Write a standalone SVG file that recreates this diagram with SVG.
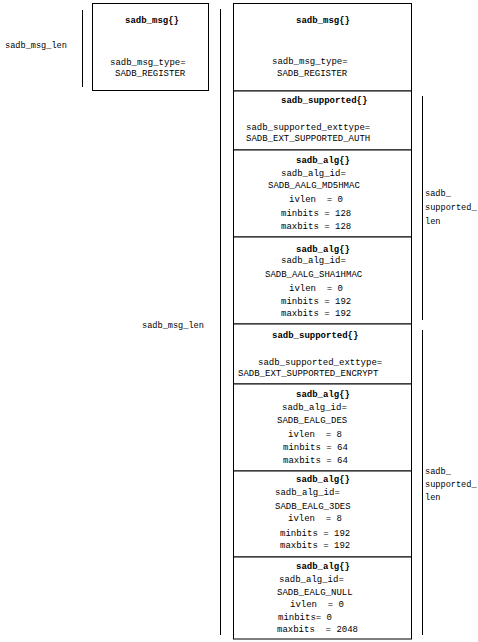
<svg xmlns="http://www.w3.org/2000/svg" width="478" height="642" viewBox="0 0 478 642">
<style>
text{font-family:"Liberation Mono","DejaVu Sans Mono",monospace;font-size:9px;fill:#000;white-space:pre}
.h{font-weight:bold}
.s{font-size:8.6px}
.box{fill:#fff;stroke:#000;stroke-width:1}
.ln{stroke:#000;stroke-width:1;fill:none}
</style>
<rect width="478" height="642" fill="#fff"/>
<g id="connectors">
<line class="ln" x1="82.5" y1="10" x2="82.5" y2="87"/>
<line class="ln" x1="220.5" y1="9" x2="220.5" y2="635"/>
<line class="ln" x1="422.5" y1="96" x2="422.5" y2="320"/>
<line class="ln" x1="422.5" y1="330" x2="422.5" y2="635"/>
</g>
<g id="labels">
<text class="s" x="5" y="48">sadb_msg_len</text>
<text class="s" x="142" y="328">sadb_msg_len</text>
<text class="s" x="425" y="196">sadb_</text>
<text class="s" x="425" y="210">supported_</text>
<text class="s" x="425" y="224">len</text>
<text class="s" x="425" y="474">sadb_</text>
<text class="s" x="425" y="487">supported_</text>
<text class="s" x="425" y="500">len</text>
</g>
<g id="left_msg">
<rect class="box" x="92.5" y="3.5" width="116" height="87"/>
<text class="h" x="125" y="23">sadb_msg{}</text>
<text x="110" y="65">sadb_msg_type=</text>
<text x="115" y="76">SADB_REGISTER</text>
</g>
<g id="right_msg">
<rect class="box" x="233.5" y="3.5" width="178" height="87.5"/>
<text class="h" x="296" y="23">sadb_msg{}</text>
<text x="272" y="64">sadb_msg_type=</text>
<text x="277" y="76">SADB_REGISTER</text>
</g>
<g id="supported_auth">
<rect class="box" x="233.5" y="91" width="178" height="59"/>
<text class="h" x="281" y="103">sadb_supported{}</text>
<text x="246" y="130">sadb_supported_exttype=</text>
<text x="246" y="141">SADB_EXT_SUPPORTED_AUTH</text>
</g>
<g id="alg_md5">
<rect class="box" x="233.5" y="150" width="178" height="87"/>
<text class="h" x="296" y="163">sadb_alg{}</text>
<text x="281" y="176">sadb_alg_id=</text>
<text x="268" y="188">SADB_AALG_MD5HMAC</text>
<text x="289" y="202">ivlen  = 0</text>
<text x="281" y="216">minbits = 128</text>
<text x="281" y="229">maxbits = 128</text>
</g>
<g id="alg_sha1">
<rect class="box" x="233.5" y="237" width="178" height="87"/>
<text class="h" x="296" y="252">sadb_alg{}</text>
<text x="281" y="263">sadb_alg_id=</text>
<text x="265" y="277">SADB_AALG_SHA1HMAC</text>
<text x="289" y="291">ivlen  = 0</text>
<text x="281" y="304">minbits = 192</text>
<text x="281" y="316">maxbits = 192</text>
</g>
<g id="supported_encrypt">
<rect class="box" x="233.5" y="324" width="178" height="60"/>
<text class="h" x="272" y="338">sadb_supported{}</text>
<text x="258" y="365">sadb_supported_exttype=</text>
<text x="238" y="376">SADB_EXT_SUPPORTED_ENCRYPT</text>
</g>
<g id="alg_des">
<rect class="box" x="233.5" y="384" width="178" height="87"/>
<text class="h" x="296" y="397">sadb_alg{}</text>
<text x="282" y="410">sadb_alg_id=</text>
<text x="277" y="423">SADB_EALG_DES</text>
<text x="288" y="437">ivlen  = 8</text>
<text x="283" y="450">minbits = 64</text>
<text x="283" y="463">maxbits = 64</text>
</g>
<g id="alg_3des">
<rect class="box" x="233.5" y="471" width="178" height="86"/>
<text class="h" x="296" y="482">sadb_alg{}</text>
<text x="275" y="495">sadb_alg_id=</text>
<text x="275" y="509">SADB_EALG_3DES</text>
<text x="288" y="521">ivlen  = 8</text>
<text x="280" y="536">minbits = 192</text>
<text x="280" y="548">maxbits = 192</text>
</g>
<g id="alg_null">
<rect class="box" x="233.5" y="557" width="178" height="82"/>
<text class="h" x="296" y="569">sadb_alg{}</text>
<text x="279" y="582">sadb_alg_id=</text>
<text x="277" y="595">SADB_EALG_NULL</text>
<text x="290" y="607">ivlen  = 0</text>
<text x="278" y="620">minbits= 0</text>
<text x="277" y="632">maxbits  = 2048</text>
</g>
</svg>
